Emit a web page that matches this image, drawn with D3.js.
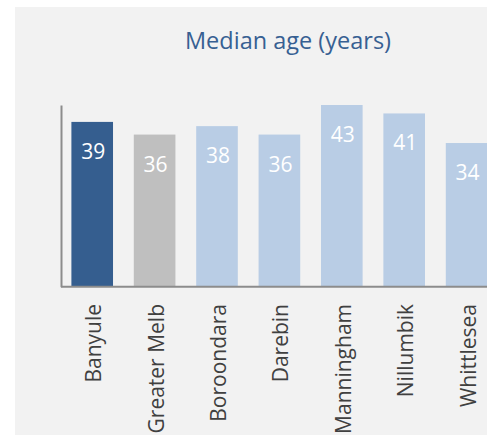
<!DOCTYPE html>
<html>
<head>
<meta charset="utf-8">
<script src="https://cdn.jsdelivr.net/npm/d3@7/dist/d3.min.js"></script>
<style>
html,body{margin:0;padding:0;background:#ffffff;overflow:hidden;}
svg{display:block;}
</style>
</head>
<body>
<script>
const categories = ["Banyule","Greater Melb","Boroondara","Darebin","Manningham","Nillumbik","Whittlesea"];
const medianAge = [39,36,38,36,43,41,34];
const barColors = ["#355e8f","#bfbfbf","#b9cde5","#b9cde5","#b9cde5","#b9cde5","#b9cde5"];
const chartTitle = "Median age (years)";

const W = 487, H = 435;
const svg = d3.select("body").append("svg").attr("width", W).attr("height", H);

svg.append("rect").attr("x", 15).attr("y", 7).attr("width", W - 15).attr("height", H - 7).attr("fill", "#f2f2f2");

const axisX = 61, baseY = 286.7, topY = 105, step = 62.4;
const x = d3.scaleBand().domain(categories)
  .range([axisX, axisX + categories.length * step])
  .paddingInner(0.333).paddingOuter(0.1667);
const y = d3.scaleLinear().domain([0, 43]).range([baseY, topY]);

const data = categories.map((c, i) => ({c, v: medianAge[i], col: barColors[i]}));

svg.append("text").attr("x", 288).attr("y", 49).attr("text-anchor", "middle")
  .attr("font-family", "'Open Sans'").attr("font-size", 23.5).attr("fill", "#376092")
  .text(chartTitle);

svg.selectAll("rect.bar").data(data).enter().append("rect").attr("class", "bar")
  .attr("x", d => x(d.c)).attr("width", x.bandwidth())
  .attr("y", d => y(d.v)).attr("height", d => y(0) - y(d.v))
  .attr("fill", d => d.col);

svg.selectAll("text.val").data(data).enter().append("text").attr("class", "val")
  .attr("x", d => x(d.c) + x.bandwidth() / 2 + 1).attr("y", d => y(d.v) + 37)
  .attr("text-anchor", "middle").attr("font-family", "'Open Sans'").attr("font-size", 21)
  .attr("fill", "#ffffff").text(d => d.v);

// axes
const yAxis = d3.axisLeft(y).tickValues([]).tickSize(0);
svg.append("g").attr("transform", `translate(${axisX},0)`).call(yAxis)
  .call(g => g.select(".domain").attr("stroke", "#8c8c8c").attr("stroke-width", 2));
const xAxis = d3.axisBottom(x).tickSize(0).tickFormat("");
svg.append("g").attr("transform", `translate(0,${baseY})`).call(xAxis)
  .call(g => g.select(".domain").attr("stroke", "#8c8c8c").attr("stroke-width", 2)
    .attr("d", `M${axisX},0H${W + 20}`));

svg.selectAll("text.cat").data(data).enter().append("text").attr("class", "cat")
  .attr("transform", d => `translate(${x(d.c) + x.bandwidth() / 2 + 9},304) rotate(-90)`)
  .attr("text-anchor", "end").attr("font-family", "'Open Sans'").attr("font-size", 21)
  .attr("fill", "#404040").text(d => d.c);
</script>
</body>
</html>
